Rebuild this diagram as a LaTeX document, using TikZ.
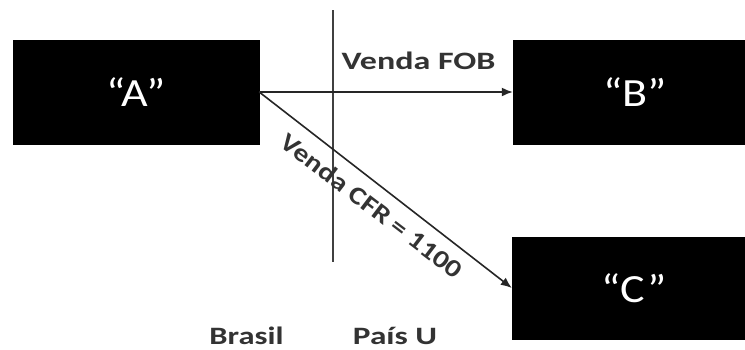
\documentclass[tikz,border=0pt]{standalone}
\usepackage{fontspec}
\setmainfont{Carlito}
\usepackage{graphicx}
\usetikzlibrary{arrows.meta}
\definecolor{labelgray}{HTML}{333333}
\tikzset{
  blackbox/.style={fill=black, draw=black, minimum width=246pt, minimum height=104pt, inner sep=0pt, text=white, font=\fontsize{40}{40}\selectfont},
  lbl/.style={text=labelgray, font=\bfseries\fontsize{25}{25}\selectfont, inner sep=0pt},
  conn/.style={draw=black!85, line width=1.6pt, -{Latex[length=11pt,width=9pt]}},
  divider/.style={draw=black!75, line width=1.5pt}
}
\begin{document}
\begin{tikzpicture}[x=1pt,y=-1pt]
\useasboundingbox (0,0) rectangle (745,349);
\clip (0,0) rectangle (745,349);
\fill[white] (0,0) rectangle (745,349);
\node[blackbox, minimum width=246pt] (A) at (136,92) {\scalebox{1.15}[1]{“A”}};
\node[blackbox, minimum width=244pt] (B) at (635,92) {\scalebox{1.15}[1]{“B”}};
\node[blackbox, minimum width=244pt, minimum height=102pt] (C) at (634,288) {\scalebox{1.15}[1]{“C”}};
\coordinate (top) at (333,10);
\coordinate (bot) at (333,262);
\draw[divider] (top) -- (bot);
\draw[conn] (A.east) -- (B.west);
\draw[conn] (A.east) -- (C.west);
\node[lbl, anchor=base] (fob) at (418.5,69) {\scalebox{1.36}[1]{Venda FOB}};
\node[lbl, rotate=-37.3] (cfr) at (372,206) {\scalebox{1.2}[1]{Venda CFR = 1100}};
\node[lbl, anchor=base] (br) at (246.5,344) {\scalebox{1.3}[1]{Brasil}};
\node[lbl, anchor=base] (pu) at (395,344) {\scalebox{1.33}[1]{País U}};
\end{tikzpicture}
\end{document}
